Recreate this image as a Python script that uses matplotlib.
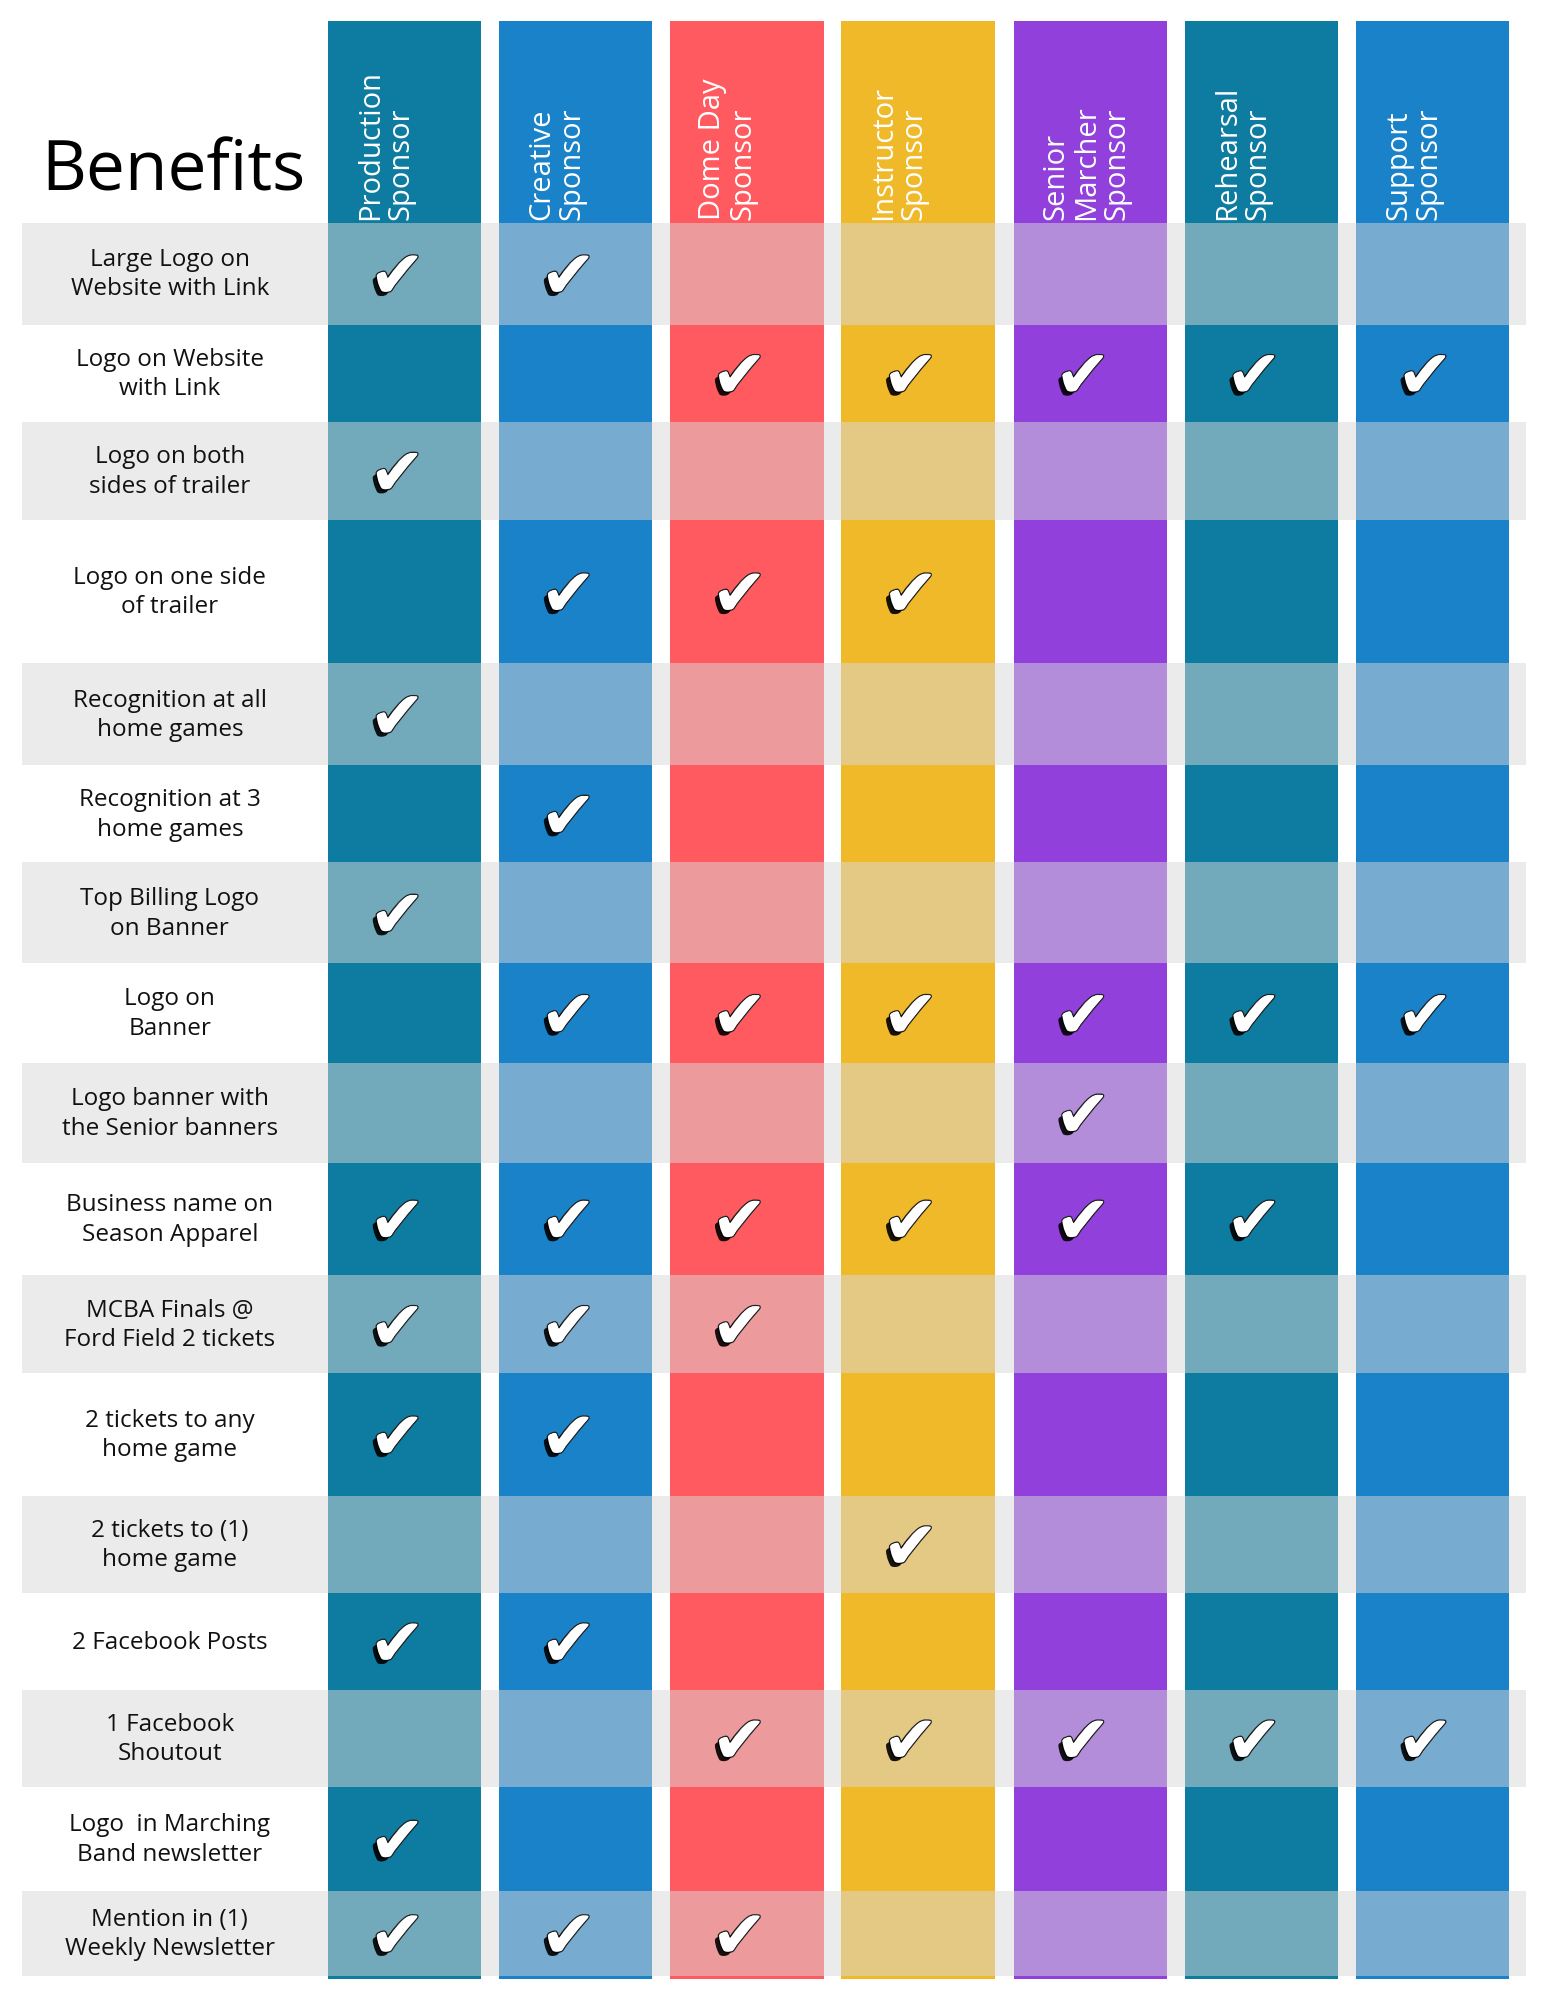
import matplotlib
matplotlib.use("Agg")
import matplotlib.pyplot as plt
import matplotlib.patheffects as pe

columns = ["Production\nSponsor", "Creative\nSponsor", "Dome Day\nSponsor", "Instructor\nSponsor",
           "Senior\nMarcher\nSponsor", "Rehearsal\nSponsor", "Support\nSponsor"]
colors = ["#0E7BA0", "#1A82C8", "#FF5A5F", "#F0B92A", "#9140DC", "#0E7BA0", "#1A82C8"]
faded = ["#72A9BB", "#78ABD0", "#EC9A9C", "#E3C983", "#B48DDA", "#72A9BB", "#78ABD0"]
benefits = ["Large Logo on\nWebsite with Link", "Logo on Website\nwith Link", "Logo on both\nsides of trailer",
            "Logo on one side\nof trailer", "Recognition at all\nhome games", "Recognition at 3\nhome games",
            "Top Billing Logo\non Banner", "Logo on\nBanner", "Logo banner with\nthe Senior banners",
            "Business name on\nSeason Apparel", "MCBA Finals @\nFord Field 2 tickets", "2 tickets to any\nhome game",
            "2 tickets to (1)\nhome game", "2 Facebook Posts", "1 Facebook\nShoutout",
            "Logo  in Marching\nBand newsletter", "Mention in (1)\nWeekly Newsletter"]
checks = [[0, 1], [2, 3, 4, 5, 6], [0], [1, 2, 3], [0], [1], [0], [1, 2, 3, 4, 5, 6], [4],
          [0, 1, 2, 3, 4, 5], [0, 1, 2], [0, 1], [3], [0, 1], [2, 3, 4, 5, 6], [0], [0, 1, 2]]
row_edges = [175, 255, 331, 408, 520, 600, 676, 755, 833, 911, 999, 1076, 1172, 1248, 1324, 1400, 1481, 1548]
col_left = [257, 391, 525, 659, 794, 928, 1062]
col_w = 120

W, H = 1210, 1565
fig = plt.figure(figsize=(15.45, 19.99), dpi=100)
ax = fig.add_axes([0, 0, 1, 1])
ax.set_xlim(0, W); ax.set_ylim(H, 0); ax.axis("off")

for j, x in enumerate(col_left):
    ax.add_patch(plt.Rectangle((x, 17), col_w, 1533, color=colors[j], lw=0))
    ax.text(x + 22, 172, columns[j], rotation=90, ha="left", va="bottom", color="white",
            fontsize=21, family="Open Sans", linespacing=1.05, multialignment="left")

for i, lab in enumerate(benefits):
    y0, y1 = row_edges[i], row_edges[i + 1]
    if i % 2 == 0:
        ax.add_patch(plt.Rectangle((17, y0), 1178, y1 - y0, color="#EBEBEB", lw=0))
        for j, x in enumerate(col_left):
            ax.add_patch(plt.Rectangle((x, y0), col_w, y1 - y0, color=faded[j], lw=0))
    ax.text(133, (y0 + y1) / 2, lab, ha="center", va="center", fontsize=17.5,
            family="Open Sans", color="#111111", linespacing=1.3)
    for j in checks[i]:
        ax.text(col_left[j] + col_w / 2 - 6, (y0 + y1) / 2 + 4, "\u2714", ha="center", va="center",
                fontsize=48, color="white", family="DejaVu Sans",
                path_effects=[pe.withStroke(linewidth=2, foreground="#222222"),
                              pe.SimplePatchShadow(offset=(-3, -3), shadow_rgbFace="black", alpha=0.9),
                              pe.Normal()])

ax.text(136, 135, "Benefits", ha="center", va="center", fontsize=50, family="Open Sans", color="black")
fig.savefig("out.png", dpi=100, facecolor="white")
